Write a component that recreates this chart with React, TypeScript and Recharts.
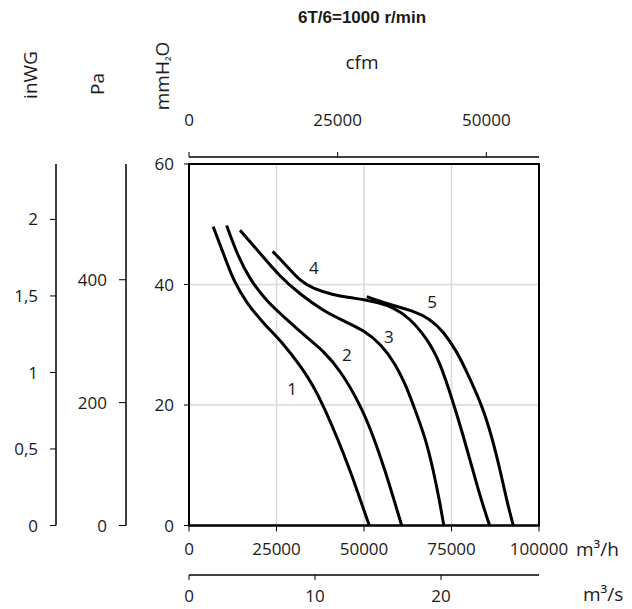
import {
  LineChart,
  Line,
  XAxis,
  YAxis,
  CartesianGrid,
  ReferenceArea,
  ReferenceDot,
} from "recharts";

// flow in m³/h, pressure in mmH2O
const flow1 = [6900, 9800, 12700, 16500, 21200, 27000, 32200, 35500, 38300, 42200, 46000, 49300, 51500];
const press1 = [49.6, 45.2, 40.6, 36.9, 33.6, 30.2, 26.2, 23.2, 20.0, 14.8, 9.2, 3.7, 0];

const flow2 = [10760, 13600, 17400, 22200, 27900, 34500, 38500, 43200, 49000, 52670, 56000, 58860, 60760];
const press2 = [49.8, 45.2, 40.8, 37.2, 34.2, 30.8, 28.9, 25.8, 20.0, 14.8, 9.2, 3.7, 0];

const flow3 = [14600, 20000, 26000, 31700, 38400, 44000, 50000, 55000, 59000, 62000, 64000, 67430, 69810, 71710, 72800];
const press3 = [49.0, 45.4, 41.3, 38.4, 35.6, 34.0, 32.4, 30.0, 26.8, 23.2, 20.1, 14.8, 9.2, 3.7, 0];

const flow4 = [23900, 27900, 31700, 35500, 41000, 46000, 50000, 54000, 58400, 63100, 67900, 71700, 75700, 78300, 80900, 83600, 85900];
const press4 = [45.5, 43.1, 40.6, 39.3, 38.3, 37.8, 37.5, 37.0, 36.2, 34.4, 31.1, 27.2, 20.0, 15.0, 9.6, 4.0, 0];

const flow5 = [50800, 54500, 58400, 64100, 68900, 72700, 76500, 79300, 83700, 86500, 88900, 90950, 92670];
const press5 = [38.0, 37.2, 36.5, 35.6, 34.3, 32.2, 28.9, 25.6, 20.0, 14.8, 9.2, 3.7, 0];

const curveNames = ["1", "2", "3", "4", "5"];
const labelFlow = [29430, 45140, 57140, 35710, 69430];
const labelPress = [22.7, 28.3, 31.3, 42.8, 37.1];

const flowTicks = [0, 25000, 50000, 75000, 100000];
const m3sTicks = [0, 10, 20];
const cfmTicks = [0, 25000, 50000];
const mmTicks = [0, 20, 40, 60];
const paTicks = [0, 200, 400];
const inwgTicks = [0, 0.5, 1, 1.5, 2];

const FLOW_MAX = 100000;
const MM_MAX = 60;
const M3H_PER_M3S = 3600;
const M3H_PER_CFM = 1.699011;

const curves = [
  [flow1, press1],
  [flow2, press2],
  [flow3, press3],
  [flow4, press4],
  [flow5, press5],
].map(([f, p]) => f.map((q, i) => ({ q, p: p[i] })));

// same largest curve in the secondary flow units, so those axes get a scale
const curve5m3s = flow5.map((q, i) => ({ q: q / M3H_PER_M3S, p: press5[i] }));
const curve5cfm = flow5.map((q, i) => ({ q: q / M3H_PER_CFM, p: press5[i] }));

const tickStyle = { fill: "#1a1a1a", fontSize: 17, fontFamily: "Open Sans" };
const unitStyle: React.CSSProperties = {
  position: "absolute",
  fontFamily: "Open Sans",
  fontSize: 19,
  color: "#1a1a1a",
  whiteSpace: "nowrap",
  lineHeight: "24px",
};
const rotated = (x: number, y: number): React.CSSProperties => ({
  ...unitStyle,
  left: x,
  top: y,
  transform: "translate(-50%, -50%) rotate(-90deg)",
});

export default function App() {
  return (
    <div style={{ position: "absolute", left: 0, top: 0, width: 632, height: 609, background: "#fff" }}>
      <LineChart width={632} height={609} margin={{ top: 100, right: 93, bottom: 0, left: 6 }}>
        <CartesianGrid xAxisId="x1mh" yAxisId="y1mm" stroke="#d9d9d9" strokeWidth={1.5} />
        <XAxis
          xAxisId="x1mh"
          dataKey="q"
          type="number"
          domain={[0, FLOW_MAX]}
          allowDataOverflow
          ticks={flowTicks}
          interval={0}
          height={49.5}
          stroke="#000"
          axisLine={{ strokeWidth: 2 }}
          tickSize={6}
          tickMargin={11}
          tick={tickStyle}
        />
        <XAxis
          xAxisId="x2ms"
          dataKey="q"
          type="number"
          domain={[0, FLOW_MAX / M3H_PER_M3S]}
          allowDataOverflow
          ticks={m3sTicks}
          interval={0}
          height={34}
          stroke="#000"
          axisLine={{ strokeWidth: 1.5 }}
          tickSize={5}
          tickMargin={10}
          tick={tickStyle}
        />
        <XAxis
          xAxisId="x3gap"
          dataKey="q"
          orientation="top"
          type="number"
          domain={[0, FLOW_MAX]}
          allowDataOverflow
          height={7}
          axisLine={false}
          tickLine={false}
          tick={false}
        />
        <XAxis
          xAxisId="x4cfm"
          dataKey="q"
          orientation="top"
          type="number"
          domain={[0, FLOW_MAX / M3H_PER_CFM]}
          allowDataOverflow
          ticks={cfmTicks}
          interval={0}
          height={57}
          stroke="#000"
          axisLine={{ strokeWidth: 1.5 }}
          tickSize={5}
          tickMargin={26}
          tick={tickStyle}
        />
        <YAxis
          yAxisId="y1mm"
          type="number"
          domain={[0, MM_MAX]}
          allowDataOverflow
          ticks={mmTicks}
          interval={0}
          width={63}
          stroke="#000"
          axisLine={{ strokeWidth: 2 }}
          tickSize={5}
          tickMargin={10}
          tick={tickStyle}
        />
        <YAxis
          yAxisId="y2pa"
          type="number"
          domain={[0, MM_MAX * 9.80665]}
          allowDataOverflow
          ticks={paTicks}
          interval={0}
          width={70}
          stroke="#000"
          axisLine={{ strokeWidth: 1.5 }}
          tickSize={7}
          tickMargin={12}
          tick={tickStyle}
        />
        <YAxis
          yAxisId="y3inwg"
          type="number"
          domain={[0, MM_MAX / 25.4]}
          allowDataOverflow
          ticks={inwgTicks}
          interval={0}
          width={50}
          stroke="#000"
          axisLine={{ strokeWidth: 1.5 }}
          tickSize={6}
          tickMargin={12}
          tick={tickStyle}
          tickFormatter={(v: number) => String(v).replace(".", ",")}
        />
        <ReferenceArea
          xAxisId="x1mh"
          yAxisId="y1mm"
          x1={0}
          x2={FLOW_MAX}
          y1={0}
          y2={MM_MAX}
          fill="none"
          stroke="#000"
          strokeWidth={2}
          ifOverflow="visible"
        />
        {curves.map((d, i) => (
          <Line
            key={curveNames[i]}
            xAxisId="x1mh"
            yAxisId="y1mm"
            data={d}
            dataKey="p"
            type="basis"
            stroke="#000"
            strokeWidth={3}
            dot={false}
            activeDot={false}
            isAnimationActive={false}
          />
        ))}
        <Line
          xAxisId="x2ms"
          yAxisId="y1mm"
          data={curve5m3s}
          dataKey="p"
          type="basis"
          stroke="none"
          dot={false}
          activeDot={false}
          isAnimationActive={false}
        />
        <Line
          xAxisId="x4cfm"
          yAxisId="y1mm"
          data={curve5cfm}
          dataKey="p"
          type="basis"
          stroke="none"
          dot={false}
          activeDot={false}
          isAnimationActive={false}
        />
        {curveNames.map((n, i) => (
          <ReferenceDot
            key={"lbl" + n}
            xAxisId="x1mh"
            yAxisId="y1mm"
            x={labelFlow[i]}
            y={labelPress[i]}
            r={0}
            fill="none"
            stroke="none"
            label={{ value: n, position: "center", ...tickStyle }}
          />
        ))}
      </LineChart>
      <div
        style={{
          position: "absolute",
          left: 212,
          width: 300,
          top: 8,
          textAlign: "center",
          fontFamily: "Liberation Sans",
          fontWeight: "bold",
          fontSize: 17,
          lineHeight: "20px",
          color: "#1a1a1a",
        }}
      >
        6T/6=1000 r/min
      </div>
      <div style={{ ...unitStyle, left: 362, top: 62, transform: "translate(-50%, -50%)" }}>cfm</div>
      <div style={rotated(30, 75)}>inWG</div>
      <div style={rotated(97, 84)}>Pa</div>
      <div style={rotated(163, 76)}>
        mmH<span style={{ fontSize: 13 }}>₂</span>O
      </div>
      <div style={{ ...unitStyle, left: 576, top: 549, transform: "translateY(-50%)" }}>m³/h</div>
      <div style={{ ...unitStyle, left: 583, top: 594, transform: "translateY(-50%)" }}>m³/s</div>
    </div>
  );
}
